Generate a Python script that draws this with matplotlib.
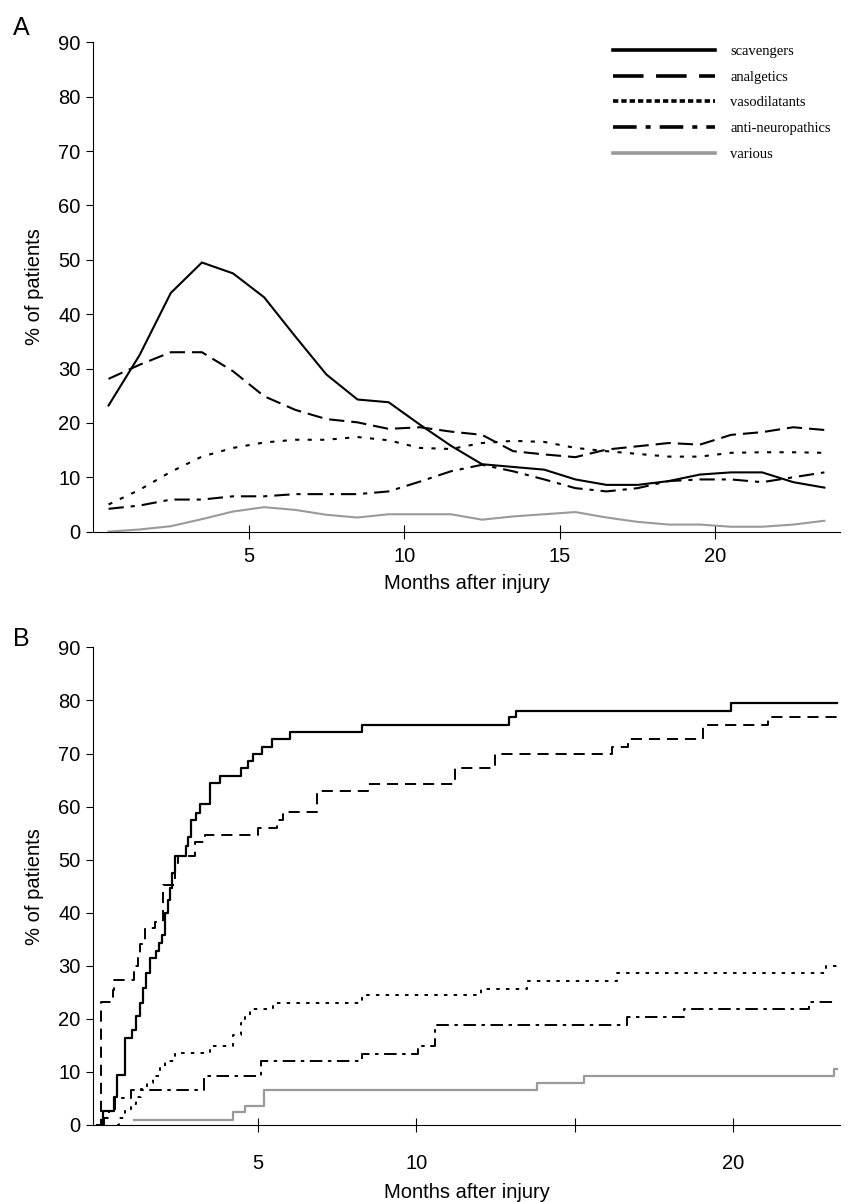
import numpy as np
import matplotlib
matplotlib.use("Agg")
import matplotlib.pyplot as plt
from matplotlib.lines import Line2D

plt.rcParams['font.family'] = ['Liberation Sans', 'DejaVu Sans']
plt.rcParams['lines.scale_dashes'] = False

# ---- panel A: monthly % of patients on each drug class ----
months = [0.5, 1.5, 2.5, 3.5, 4.5, 5.5, 6.5, 7.5, 8.5, 9.5, 10.5, 11.5,
          12.5, 13.5, 14.5, 15.5, 16.5, 17.5, 18.5, 19.5, 20.5, 21.5, 22.5, 23.5]
scavengers = [23.2, 32.5, 43.9, 49.5, 47.5, 43.1, 35.9, 28.9, 24.3, 23.8, 19.7, 15.8,
              12.4, 11.9, 11.4, 9.6, 8.6, 8.6, 9.3, 10.5, 10.9, 10.9, 9.1, 8.1]
analgetics = [28.1, 30.7, 33.0, 33.0, 29.5, 24.9, 22.4, 20.7, 20.1, 18.9, 19.2, 18.4,
              17.8, 14.8, 14.2, 13.7, 15.1, 15.7, 16.3, 16.0, 17.8, 18.3, 19.2, 18.7]
vasodilatants = [5.0, 7.7, 11.0, 13.8, 15.4, 16.4, 16.9, 16.9, 17.4, 16.8, 15.4, 15.2,
                 16.3, 16.7, 16.5, 15.4, 14.8, 14.3, 13.8, 13.8, 14.5, 14.6, 14.6, 14.5]
anti_neuro = [4.2, 4.8, 5.9, 5.9, 6.5, 6.5, 6.9, 6.9, 6.9, 7.4, 9.2, 11.1,
              12.3, 11.1, 9.6, 8.0, 7.4, 8.0, 9.3, 9.6, 9.6, 9.1, 10.0, 10.9]
various = [0.0, 0.4, 1.0, 2.3, 3.7, 4.5, 4.0, 3.1, 2.6, 3.2, 3.2, 3.2,
           2.2, 2.8, 3.2, 3.6, 2.6, 1.8, 1.3, 1.3, 0.9, 0.9, 1.3, 2.0]

# ---- panel B: cumulative % of patients (step curves) ----
scav_t = [0.0, 0.1, 0.45, 0.55, 0.79, 1.03, 1.16, 1.27, 1.37, 1.48, 1.58, 1.79, 1.88,
          1.98, 2.06, 2.16, 2.22, 2.27, 2.37, 2.74, 2.79, 2.90, 3.04, 3.16, 3.48, 3.80,
          4.48, 4.69, 4.85, 5.12, 5.43, 6.01, 8.30, 12.94, 13.16, 19.94, 23.3]
scav_v = [0.0, 2.6, 5.2, 9.5, 16.3, 17.9, 20.5, 22.9, 25.8, 28.6, 31.4, 32.7, 34.2,
          35.8, 39.9, 42.4, 44.6, 47.4, 50.7, 52.5, 54.3, 57.5, 58.7, 60.4, 64.4, 65.8,
          67.2, 68.5, 69.9, 71.3, 72.7, 74.1, 75.4, 76.8, 78.1, 79.6, 79.6]
anal_t = [-0.1, 0.03, 0.42, 0.45, 1.1, 1.2, 1.27, 1.42, 1.74, 2.0, 2.37, 2.48, 3.01,
          3.32, 5.0, 5.6, 5.8, 6.86, 8.49, 11.22, 12.5, 16.17, 16.7, 19.06, 21.12, 23.3]
anal_v = [0.0, 23.2, 25.4, 27.3, 30.0, 32.0, 34.1, 37.1, 38.3, 45.2, 49.3, 50.7, 53.4,
          54.7, 56.0, 57.5, 58.9, 63.0, 64.3, 67.2, 69.9, 71.3, 72.7, 75.4, 76.8, 76.8]
vaso_t = [0.55, 0.6, 0.8, 1.0, 1.15, 1.3, 1.5, 1.7, 1.9, 2.05, 2.37, 3.5, 4.22, 4.45,
          4.6, 4.75, 5.48, 8.3, 12.05, 13.5, 16.35, 22.94, 23.3]
vaso_v = [0.0, 1.3, 2.6, 4.0, 5.3, 6.7, 8.0, 9.3, 10.7, 12.0, 13.6, 14.9, 17.0, 19.2,
          20.4, 21.8, 23.0, 24.4, 25.7, 27.2, 28.6, 30.0, 30.0]
neuro_t = [0.1, 0.15, 0.3, 0.5, 1.0, 3.3, 5.1, 8.28, 10.07, 10.6, 16.67, 18.45, 22.4, 23.3]
neuro_v = [0.0, 1.3, 2.6, 5.0, 6.5, 9.3, 12.0, 13.3, 14.8, 18.8, 20.4, 21.8, 23.2, 23.2]
var_t = [1.1, 4.2, 4.6, 5.2, 13.8, 15.3, 23.2, 23.3]
var_v = [1.0, 2.5, 3.6, 6.5, 8.0, 9.2, 10.5, 10.5]

labels = ['scavengers', 'analgetics', 'vasodilatants', 'anti-neuropathics', 'various']
black = '#000000'
grey = '#9a9a9a'

fig = plt.figure(figsize=(8.53, 12.02), dpi=100)

axA = fig.add_axes([0.109, 0.5577, 0.8757, 0.4071])
axA.plot(months, scavengers, color=black, lw=1.5, ls='-')
axA.plot(months, analgetics, color=black, lw=1.5, dashes=(11, 5))
axA.plot(months, vasodilatants, color=black, lw=1.5, dashes=(3, 6))
axA.plot(months, anti_neuro, color=black, lw=1.5, dashes=(11, 5, 3, 5))
axA.plot(months, various, color=grey, lw=1.5, ls='-')
axA.set_xlim(0, 24)
axA.set_ylim(0, 90)

handles = [Line2D([], [], color=black, lw=2.6, ls='-'),
           Line2D([], [], color=black, lw=2.6, dashes=(22, 9)),
           Line2D([], [], color=black, lw=2.6, dashes=(3.8, 2.2)),
           Line2D([], [], color=black, lw=2.6, dashes=(17, 6.5, 3.6, 6.5)),
           Line2D([], [], color=grey, lw=2.6, ls='-')]
axA.legend(handles, labels, loc='upper right', bbox_to_anchor=(1.005, 1.022),
           frameon=False, handlelength=7.0, handletextpad=1.0, labelspacing=0.86,
           prop={'family': 'Liberation Serif', 'size': 10.5})

axB = fig.add_axes([0.109, 0.0641, 0.8757, 0.3973])
axB.step(scav_t, scav_v, where='post', color=black, lw=1.6)
axB.step(anal_t, anal_v, where='post', color=black, lw=1.4, dashes=(8, 5))
axB.step(vaso_t, vaso_v, where='post', color=black, lw=1.4, dashes=(2.5, 4.5))
axB.step(neuro_t, neuro_v, where='post', color=black, lw=1.4, dashes=(9, 4, 2.5, 4))
axB.step(var_t, var_v, where='post', color=grey, lw=1.6)
axB.set_xlim(-0.21, 23.38)
axB.set_ylim(0, 90)

for ax in (axA, axB):
    ax.spines['top'].set_visible(False)
    ax.spines['right'].set_visible(False)
    ax.set_yticks(range(0, 91, 10))
    ax.set_xticks([5, 10, 15, 20])
    ax.tick_params(axis='y', direction='out', length=5, labelsize=14.5, pad=4)
    ax.tick_params(axis='x', direction='inout', length=10, labelsize=14.5, pad=6)
    ax.set_ylabel('% of patients', fontsize=14.5, labelpad=10)

axA.set_xlabel('Months after injury', fontsize=14.5, labelpad=6)
axB.set_xlabel('Months after injury', fontsize=14.5, labelpad=7)
axB.tick_params(axis='x', pad=16)
axB.set_xticklabels(['5', '10', '', '20'])

fig.text(0.015, 0.977, 'A', fontsize=18, va='center')
fig.text(0.015, 0.468, 'B', fontsize=18, va='center')

fig.savefig('out.png', dpi=100)
